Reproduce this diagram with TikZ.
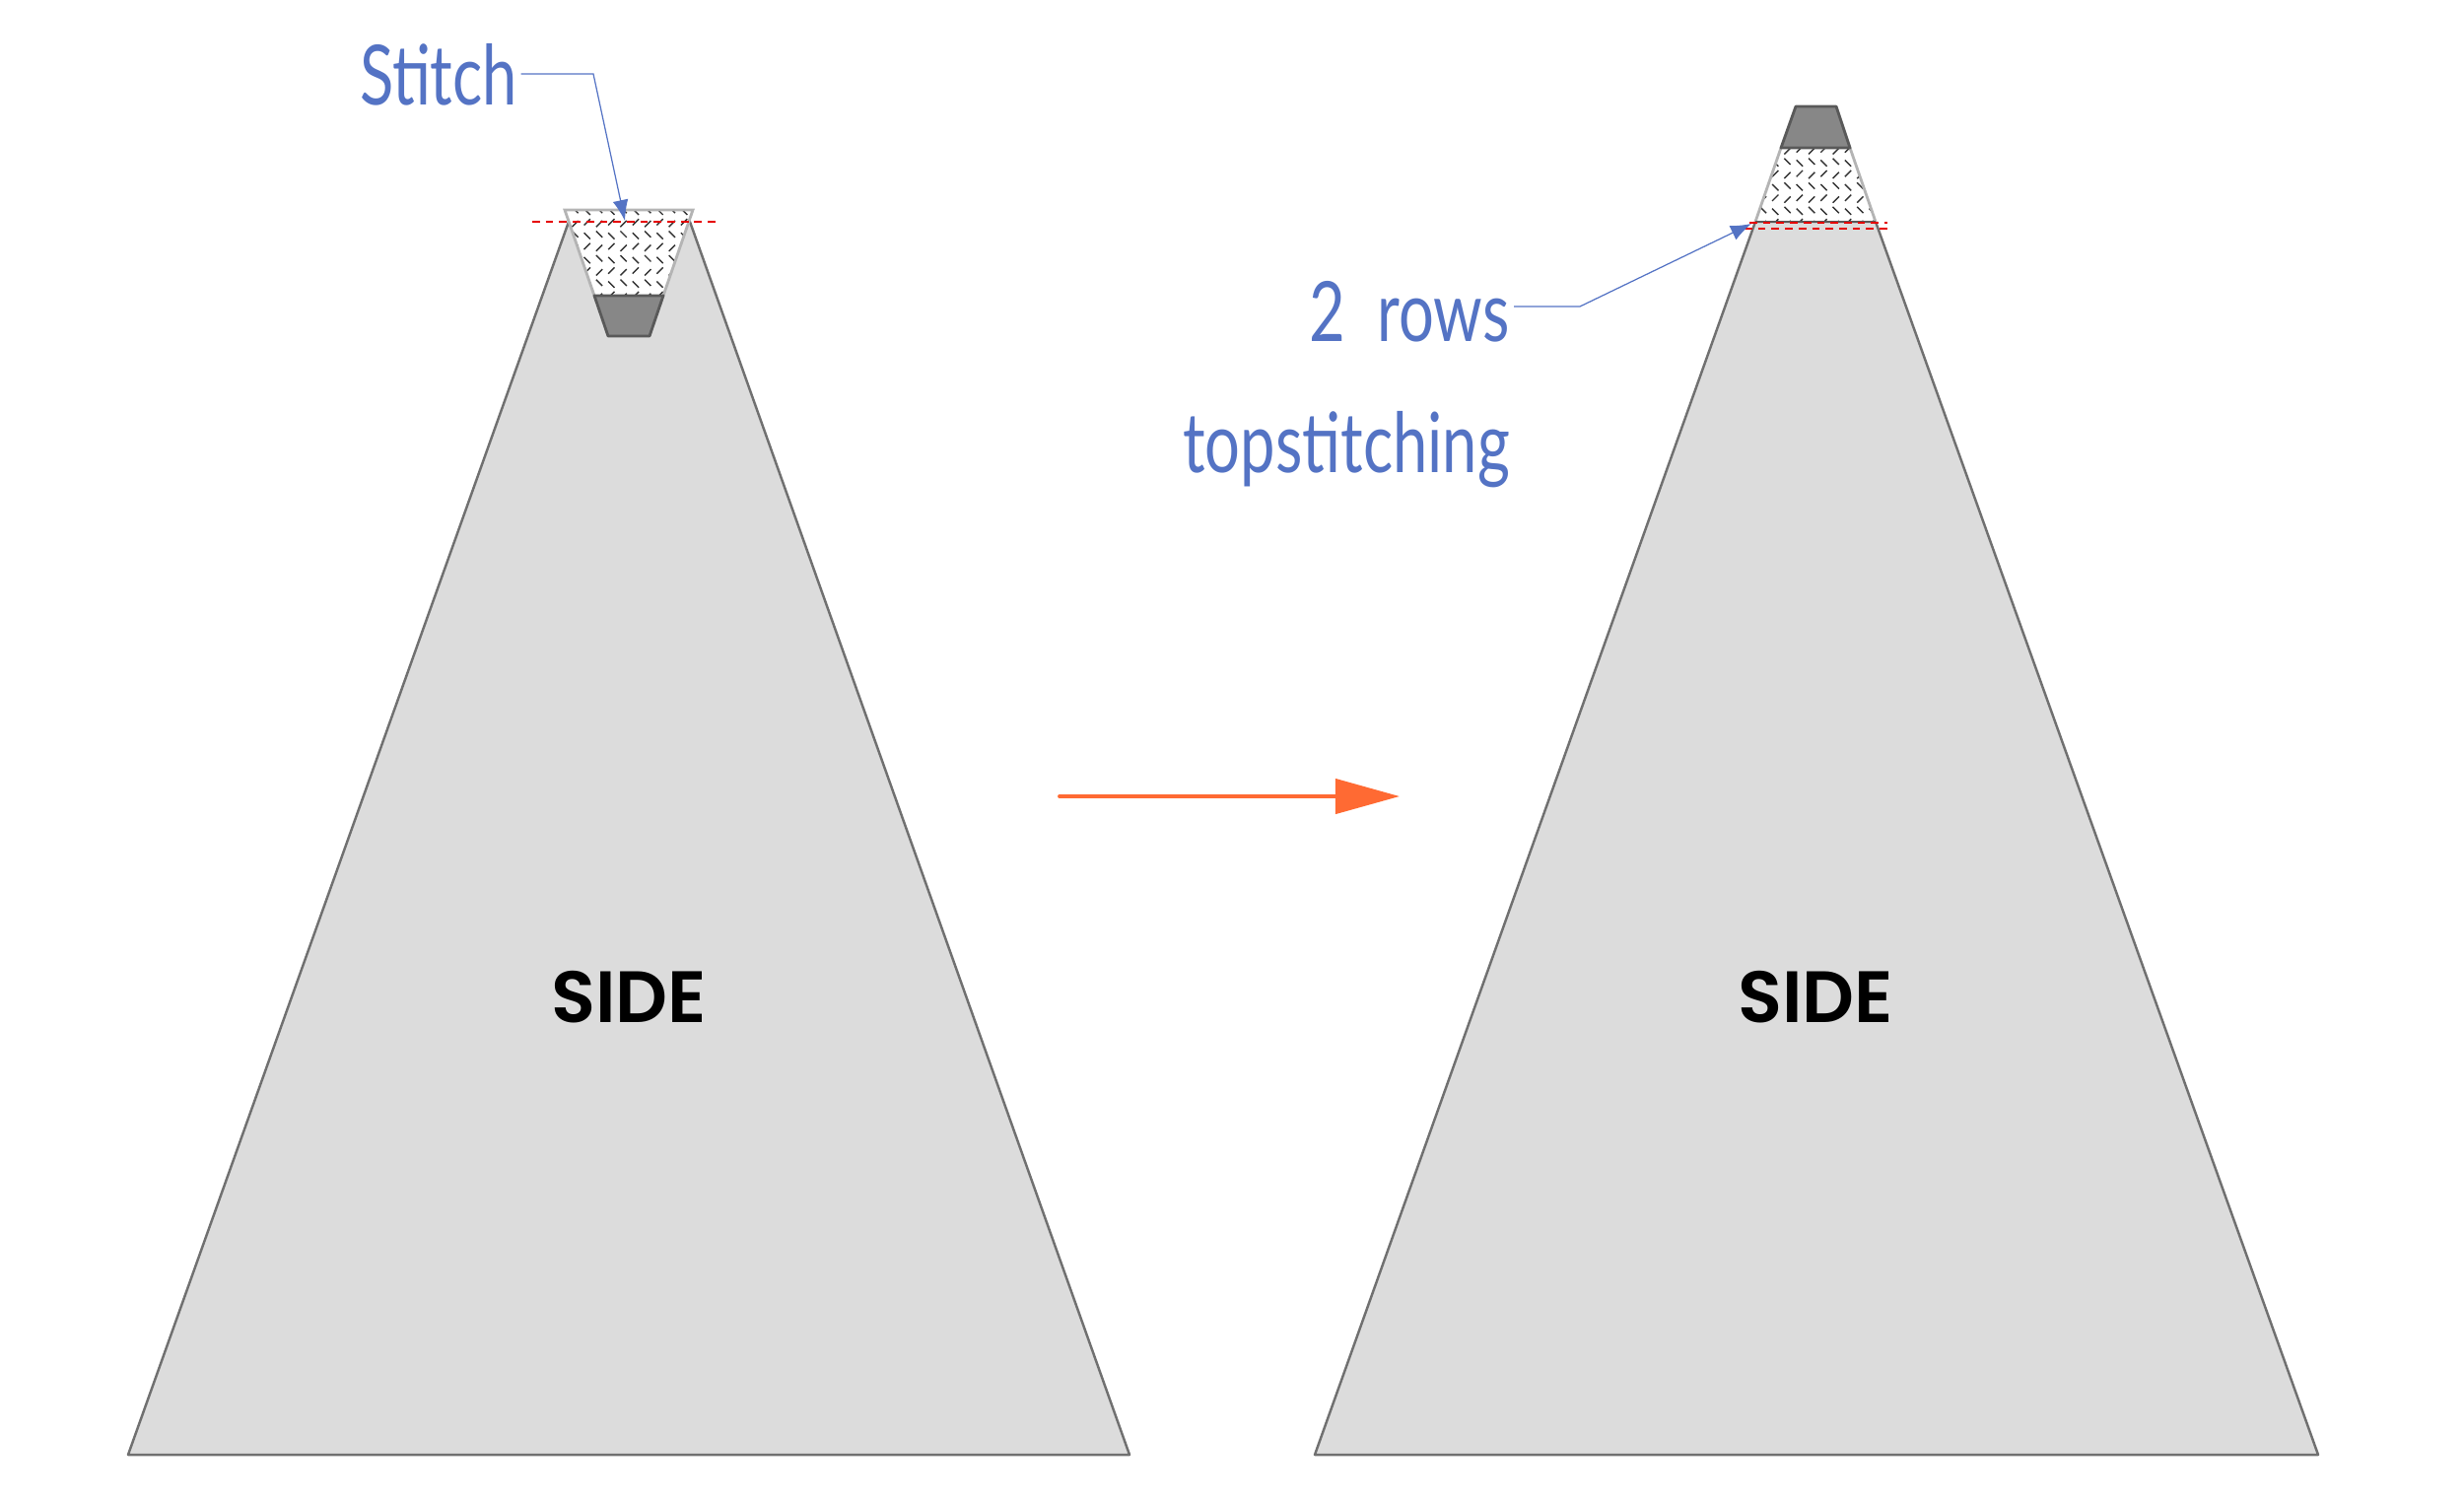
\documentclass[tikz,border=0pt]{standalone}
\usepackage{fontspec}
\setmainfont{Poppins}[BoldFont={* SemiBold}]
\newfontfamily\handfont[FakeStretch=0.75]{Lato}
\usetikzlibrary{patterns,arrows.meta}

\definecolor{sidefill}{HTML}{DCDCDC}
\definecolor{sideline}{HTML}{707070}
\definecolor{foldline}{HTML}{B4B4B4}
\definecolor{darkfill}{HTML}{878787}
\definecolor{darkline}{HTML}{595959}
\definecolor{notecolor}{HTML}{5473C4}
\definecolor{arrowcolor}{HTML}{FF6A33}

\pgfdeclarepatternformonly{weavehatch}{\pgfqpoint{-0.5pt}{-0.5pt}}{\pgfqpoint{7.5pt}{7.5pt}}{\pgfqpoint{7pt}{7pt}}{
\pgfsetlinewidth{0.4pt}
\pgfpathmoveto{\pgfqpoint{0.6pt}{2.4pt}}\pgfpathlineto{\pgfqpoint{2.4pt}{0.6pt}}
\pgfpathmoveto{\pgfqpoint{4.1pt}{4.1pt}}\pgfpathlineto{\pgfqpoint{5.9pt}{5.9pt}}
\pgfpathmoveto{\pgfqpoint{0.6pt}{4.6pt}}\pgfpathlineto{\pgfqpoint{2.4pt}{6.4pt}}
\pgfpathmoveto{\pgfqpoint{4.1pt}{2.9pt}}\pgfpathlineto{\pgfqpoint{5.9pt}{1.1pt}}
\pgfusepath{stroke}}

\tikzset{
  sidebody/.style={draw=sideline, fill=sidefill, line width=0.7pt, line join=round},
  foldpiece/.style={draw=foldline, fill=white, line width=0.8pt},
  hatchfill/.style={pattern=weavehatch, pattern color=black!80},
  darkpiece/.style={draw=darkline, fill=darkfill, line width=0.8pt, line join=round},
  stitchline/.style={draw=red!90!black, line width=0.75pt, dash pattern=on 2.2pt off 1.7pt},
  sidelabel/.style={font=\fontsize{21}{21}\selectfont\bfseries, text=black},
  notelabel/.style={font=\handfont\fontsize{24}{24}\selectfont, text=notecolor, inner sep=0pt},
  leader/.style={draw=notecolor, line width=0.35pt, -{Latex[length=6pt,width=4.5pt]}}
}

\begin{document}
\begin{tikzpicture}[x=1cm,y=1cm]
\useasboundingbox (0,0) rectangle (25,-15.24);

% left side
\draw[sidebody] (1.30,-14.76) -- (5.77,-2.25) -- (7.00,-2.25) -- (11.46,-14.76) -- cycle;
\fill[white] (5.73,-2.13) -- (7.03,-2.13) -- (6.73,-3.00) -- (6.03,-3.00) -- cycle;
\path[hatchfill] (5.73,-2.13) -- (7.03,-2.13) -- (6.73,-3.00) -- (6.03,-3.00) -- cycle;
\draw[foldline, line width=0.8pt] (6.03,-3.00) -- (5.73,-2.13) -- (7.03,-2.13) -- (6.73,-3.00);
\draw[darkpiece] (6.03,-3.00) -- (6.73,-3.00) -- (6.59,-3.41) -- (6.17,-3.41) -- cycle;
\draw[stitchline] (5.40,-2.25) -- (7.27,-2.25);
\node[sidelabel] (sideleft) at (6.38,-10.12) {SIDE};

% right side
\draw[sidebody] (13.34,-14.76) -- (17.81,-2.25) -- (19.03,-2.25) -- (23.52,-14.76) -- cycle;
\fill[white] (18.07,-1.50) -- (18.77,-1.50) -- (19.03,-2.25) -- (17.81,-2.25) -- cycle;
\path[hatchfill] (18.07,-1.50) -- (18.77,-1.50) -- (19.03,-2.25) -- (17.81,-2.25) -- cycle;
\draw[foldline, line width=0.8pt] (18.07,-1.50) -- (17.81,-2.25);
\draw[foldline, line width=0.8pt] (18.77,-1.50) -- (19.03,-2.25);
\draw[darkline, line width=0.8pt] (17.81,-2.25) -- (19.03,-2.25);
\draw[darkpiece] (18.07,-1.50) -- (18.77,-1.50) -- (18.63,-1.08) -- (18.22,-1.08) -- cycle;
\draw[stitchline] (17.75,-2.26) -- (19.15,-2.26);
\draw[stitchline] (17.70,-2.32) -- (19.15,-2.32);
\node[sidelabel] (sideright) at (18.42,-10.12) {SIDE};

% notes
\node[notelabel] (stitchnote) at (4.45,-0.76) {Stitch};
\node[notelabel] (rowsnote) at (14.30,-3.16) {2 \ rows};
\node[notelabel] (topnote) at (13.66,-4.56) {topstitching};

\coordinate (stitchtip) at (6.34,-2.24);
\coordinate (rowstip) at (17.77,-2.27);
\draw[leader] (stitchnote.east) ++(0.03,0.01) -- (6.02,-0.75) -- (stitchtip);
\draw[leader] (rowsnote.east) ++(0.04,0.05) -- (16.03,-3.11) -- (rowstip);

% arrow
\coordinate (arrowstart) at (10.75,-8.08);
\coordinate (arrowend) at (14.20,-8.08);
\draw[arrowcolor, line width=1.1pt, line cap=round, -{Triangle[length=18.5pt,width=10pt]}] (arrowstart) -- (arrowend);
\end{tikzpicture}
\end{document}
